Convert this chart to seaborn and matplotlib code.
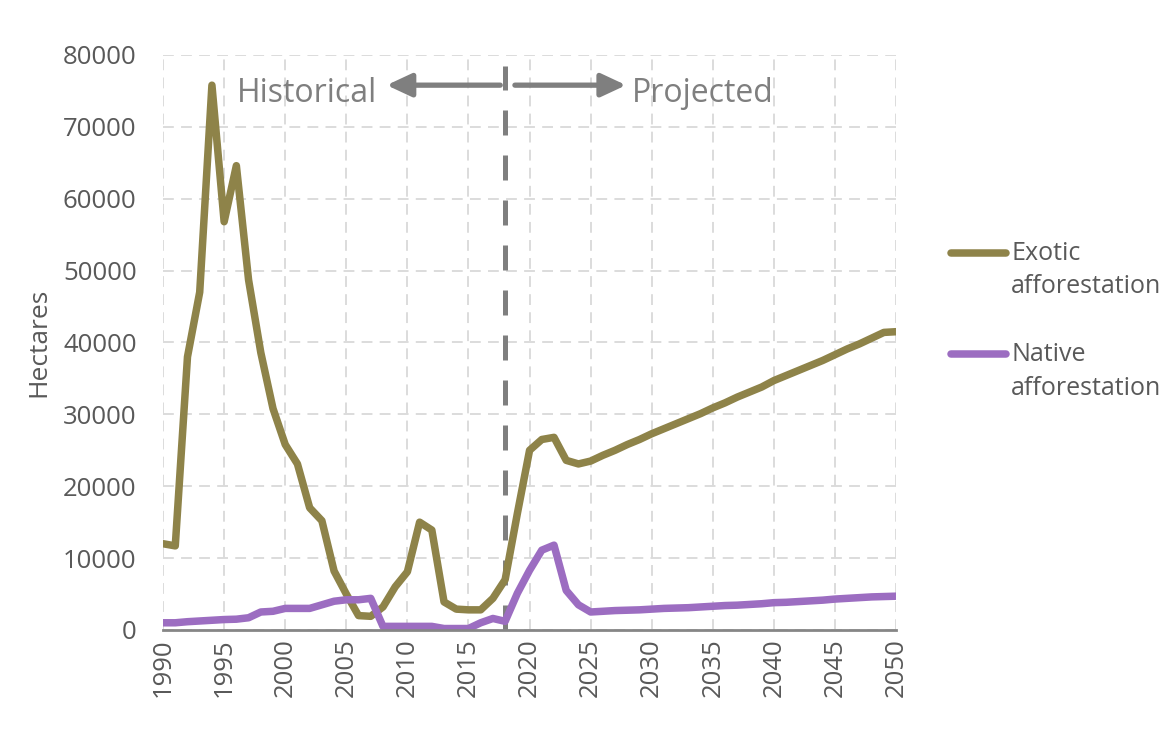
import matplotlib.pyplot as plt
import pandas as pd
import seaborn as sns
from matplotlib.legend_handler import HandlerLine2D

years = list(range(1990, 2051))

exotic = [12000, 11700, 38000, 47000, 75800, 56800, 64600, 48700, 38600, 30800,
          25800, 23100, 17000, 15200, 8200, 5000, 2000, 1900, 3200, 6000,
          8100, 15000, 13900, 3900, 2900, 2800, 2800, 4400, 7000, 16200,
          25000, 26500, 26800, 23600, 23100, 23500, 24300, 25000, 25800, 26500,
          27300, 28000, 28700, 29400, 30100, 30900, 31600, 32400, 33100, 33800,
          34700, 35400, 36100, 36800, 37500, 38300, 39100, 39800, 40600, 41400,
          41500]

native = [1000, 1000, 1150, 1250, 1350, 1450, 1500, 1700, 2500, 2600,
          3000, 3000, 3000, 3500, 4000, 4200, 4200, 4400, 500, 500,
          500, 500, 500, 200, 200, 200, 1000, 1600, 1200, 5100,
          8300, 11100, 11800, 5500, 3500, 2500, 2600, 2700, 2750, 2800,
          2900, 3000, 3050, 3100, 3200, 3300, 3400, 3450, 3550, 3650,
          3800, 3850, 3950, 4050, 4150, 4300, 4400, 4500, 4600, 4650,
          4700]

series_names = ["Exotic\nafforestation", "Native\nafforestation"]
colors = ["#8e8349", "#9c6dc1"]
split_year = 2018

df = pd.concat([
    pd.DataFrame({"Year": years, "Hectares": exotic, "Series": series_names[0]}),
    pd.DataFrame({"Year": years, "Hectares": native, "Series": series_names[1]}),
])


class FirstLineHandler(HandlerLine2D):
    # put the legend line next to the first line of a two-line label
    def create_artists(self, legend, orig_handle, xdescent, ydescent, width,
                       height, fontsize, trans):
        artists = super().create_artists(legend, orig_handle, xdescent, ydescent,
                                         width, height, fontsize, trans)
        for a in artists:
            a.set_ydata([y + 13 for y in a.get_ydata()])
        return artists


sns.set_style("white")
plt.rcParams["font.family"] = ["Open Sans", "DejaVu Sans"]

grey_text = "#595959"
grey_note = "#7f7f7f"

fig = plt.figure(figsize=(11.68, 7.35), dpi=100)
ax = fig.add_axes([0.1396, 0.1429, 0.6276, 0.7823])

sns.lineplot(data=df, x="Year", y="Hectares", hue="Series",
             palette=dict(zip(series_names, colors)), linewidth=5.4, ax=ax)

ax.set_xlim(1990, 2050)
ax.set_ylim(0, 80000)
ax.set_xticks(range(1990, 2051, 5))
ax.set_yticks(range(0, 80001, 10000))
ax.tick_params(axis="x", labelrotation=90, labelsize=18.5, colors=grey_text, length=0, pad=6)
ax.tick_params(axis="y", labelsize=18.5, colors=grey_text, length=0, pad=19)
ax.set_xlabel("")
ax.set_ylabel("Hectares", fontsize=19, color=grey_text, labelpad=8)

ax.grid(True, color="#d9d9d9", linestyle=(0, (6, 4)), linewidth=1.3)
ax.set_axisbelow(True)
for side in ["top", "right", "left"]:
    ax.spines[side].set_visible(False)
ax.spines["bottom"].set_color("#868686")
ax.spines["bottom"].set_linewidth(2)

# historical / projected split
ax.axvline(split_year, ymin=0, ymax=0.98, color=grey_note, linewidth=3.6,
           linestyle=(0, (5, 4)), zorder=1)
arrow = dict(arrowstyle="-|>,head_width=0.35,head_length=0.75", color=grey_note,
             lw=3.8, shrinkA=0, shrinkB=0, mutation_scale=20)
ax.annotate("", xy=(2008.3, 75800), xytext=(2017.6, 75800), arrowprops=arrow)
ax.annotate("", xy=(2027.9, 75800), xytext=(2018.8, 75800), arrowprops=arrow)
ax.text(1996.05, 73400, "Historical", fontsize=23, color=grey_note, va="baseline")
ax.text(2028.4, 73400, "Projected", fontsize=23, color=grey_note, va="baseline")

handles, labels = ax.get_legend_handles_labels()
ax.get_legend().remove()
leg = fig.legend(handles, labels, loc="upper left", bbox_to_anchor=(0.795, 0.703),
                 frameon=False, fontsize=18, labelcolor=grey_text,
                 handlelength=2.2, handletextpad=0.2, labelspacing=1.72,
                 handler_map={h: FirstLineHandler() for h in handles})
for t in leg.get_texts():
    t.set_linespacing(1.45)

fig.savefig("out.png", dpi=100)
